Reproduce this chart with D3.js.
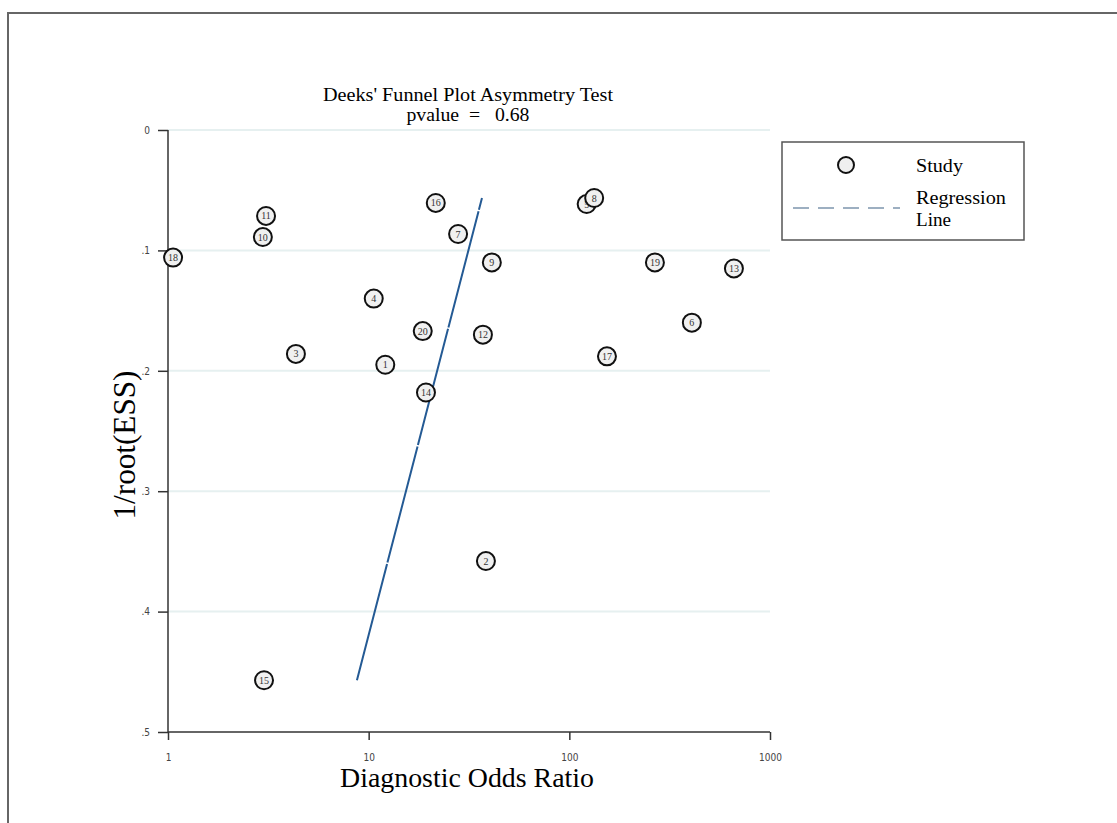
<!DOCTYPE html>
<html>
<head>
<meta charset="utf-8">
<script src="https://cdn.jsdelivr.net/npm/d3@7"></script>
<style>
  body { margin: 0; background: #fff; }
  svg { display: block; }
  text { font-family: "Liberation Serif", "DejaVu Serif", serif; }
</style>
</head>
<body>
<svg id="chart" width="1117" height="823"></svg>
<script>
// study data: diagnostic odds ratio and 1/root(ESS)
var studyIds = ["1","2","3","4","5","6","7","8","9","10","11","12","13","14","15","16","17","18","19","20"];
var dor      = [12.1, 38.4, 4.34, 10.6, 122, 408, 27.9, 133, 41.1, 2.97, 3.08, 37.1, 661, 19.3, 3.01, 21.6, 154, 1.06, 267, 18.6];
var invEss   = [0.195, 0.358, 0.186, 0.140, 0.0615, 0.160, 0.0864, 0.0565, 0.110, 0.0889, 0.0714, 0.170, 0.115, 0.218, 0.457, 0.0606, 0.188, 0.106, 0.110, 0.167];

// regression line ends
var regX = [8.74, 36.7];
var regY = [0.457, 0.0565];

var xTicks = [1, 10, 100, 1000];
var yTicks = [0, 0.1, 0.2, 0.3, 0.4, 0.5];
var yTickLabels = ["0", ".1", ".2", ".3", ".4", ".5"];

var svg = d3.select("#chart");

// outer frame (top + left)
svg.append("path")
  .attr("d", "M8,823 L8,13 L1117,13")
  .attr("fill", "none")
  .attr("stroke", "#666")
  .attr("stroke-width", 2);

var x = d3.scaleLog().domain([1, 1000]).range([168, 770]);
var y = d3.scaleLinear().domain([0, 0.5]).range([130, 732]);

// grid lines
svg.append("g").selectAll("line")
  .data(yTicks.slice(0, 5))
  .enter().append("line")
  .attr("x1", x(1)).attr("x2", x(1000))
  .attr("y1", function(d){ return y(d); })
  .attr("y2", function(d){ return y(d); })
  .attr("stroke", "#e6f0f0")
  .attr("stroke-width", 2);

// y axis
var yAxis = d3.axisLeft(y)
  .tickValues(yTicks)
  .tickFormat(function(d, i){ return yTickLabels[i]; })
  .tickSize(10)
  .tickPadding(8);
var gy = svg.append("g").attr("transform", "translate(" + x(1) + ",0)").call(yAxis);
gy.select(".domain").attr("stroke", "#333").attr("stroke-width", 1.5).attr("d", "M0," + y(0) + "V" + y(0.5));
gy.selectAll(".tick line").attr("stroke", "#333").attr("stroke-width", 1.5);
gy.selectAll(".tick text")
  .style("font-family", "'Liberation Sans Narrow', 'DejaVu Sans Condensed', sans-serif")
  .style("font-size", "10px").attr("fill", "#444");

// x axis
var xAxis = d3.axisBottom(x)
  .tickValues(xTicks)
  .tickFormat(d3.format("d"))
  .tickSize(8)
  .tickPadding(14);
var gx = svg.append("g").attr("transform", "translate(0," + y(0.5) + ")").call(xAxis);
gx.select(".domain").attr("stroke", "#333").attr("stroke-width", 1.5).attr("d", "M" + x(1) + ",0H" + x(1000));
gx.selectAll(".tick line").attr("stroke", "#333").attr("stroke-width", 1.5);
gx.selectAll(".tick text")
  .style("font-family", "'Liberation Sans Narrow', 'DejaVu Sans Condensed', sans-serif")
  .style("font-size", "10px").attr("fill", "#444");

// regression line
svg.append("line")
  .attr("x1", x(regX[0])).attr("y1", y(regY[0]))
  .attr("x2", x(regX[1])).attr("y2", y(regY[1]))
  .attr("stroke", "#245a94")
  .attr("stroke-width", 2)
  .attr("stroke-dasharray", "120,1.5");

// studies
var pts = svg.append("g").selectAll("g")
  .data(studyIds)
  .enter().append("g")
  .attr("transform", function(d, i){ return "translate(" + x(dor[i]) + "," + y(invEss[i]) + ")"; });
pts.append("circle")
  .attr("r", 9)
  .attr("fill", "#f0f0f0")
  .attr("stroke", "#111")
  .attr("stroke-width", 2);
pts.append("text")
  .attr("text-anchor", "middle")
  .attr("dy", "0.35em")
  .style("font-size", "10px")
  .attr("fill", "#333")
  .text(function(d){ return d; });

// titles
svg.append("text").attr("x", 468).attr("y", 101).attr("text-anchor", "middle")
  .attr("textLength", 290).attr("lengthAdjust", "spacingAndGlyphs")
  .style("font-size", "18px").text("Deeks' Funnel Plot Asymmetry Test");
svg.append("text").attr("x", 468).attr("y", 121).attr("text-anchor", "middle")
  .attr("textLength", 123).attr("lengthAdjust", "spacingAndGlyphs")
  .style("font-size", "18px").attr("xml:space", "preserve").text("pvalue  =   0.68");

svg.append("text").attr("x", 467).attr("y", 787).attr("text-anchor", "middle")
  .attr("textLength", 254).attr("lengthAdjust", "spacingAndGlyphs")
  .style("font-size", "27px").text("Diagnostic Odds Ratio");
svg.append("text").attr("transform", "translate(135,445) rotate(-90)").attr("text-anchor", "middle")
  .attr("textLength", 149).attr("lengthAdjust", "spacingAndGlyphs")
  .style("font-size", "31px").text("1/root(ESS)");

// legend
var lg = svg.append("g");
lg.append("rect").attr("x", 782).attr("y", 142).attr("width", 242).attr("height", 98)
  .attr("fill", "#fff").attr("stroke", "#555").attr("stroke-width", 1.5);
lg.append("circle").attr("cx", 846).attr("cy", 165).attr("r", 8)
  .attr("fill", "#efefef").attr("stroke", "#111").attr("stroke-width", 2);
lg.append("text").attr("x", 916).attr("y", 172).style("font-size", "19px")
  .attr("textLength", 47).attr("lengthAdjust", "spacingAndGlyphs").text("Study");
lg.append("line").attr("x1", 793).attr("x2", 900).attr("y1", 208).attr("y2", 208)
  .attr("stroke", "#7d95ad").attr("stroke-width", 1.5).attr("stroke-dasharray", "16,9");
lg.append("text").attr("x", 916).attr("y", 204).style("font-size", "19px")
  .attr("textLength", 90).attr("lengthAdjust", "spacingAndGlyphs").text("Regression");
lg.append("text").attr("x", 916).attr("y", 226).style("font-size", "19px")
  .attr("textLength", 35).attr("lengthAdjust", "spacingAndGlyphs").text("Line");
</script>
</body>
</html>
